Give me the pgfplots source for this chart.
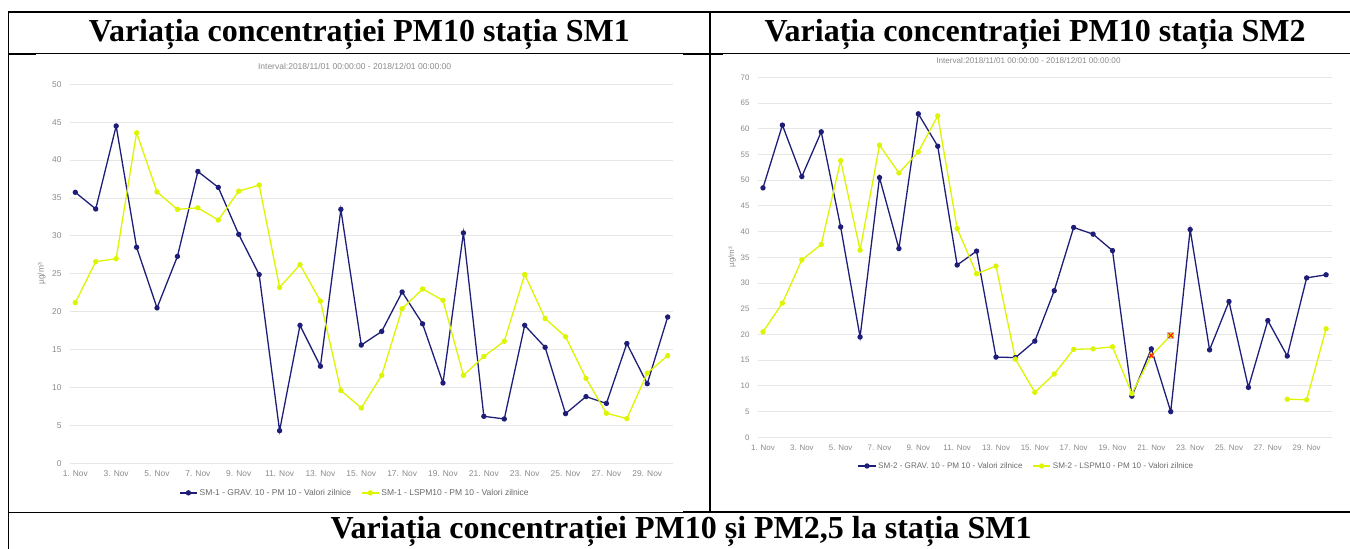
\documentclass[border=0pt]{standalone}
\usepackage{fontspec}
\setmainfont{Liberation Sans}
\newfontfamily\titlefont{Liberation Serif}
\usepackage{pgfplots}
\pgfplotsset{compat=1.18}
\definecolor{navy}{HTML}{1E1E78}
\definecolor{lime}{HTML}{DDF500}
\definecolor{gridc}{HTML}{E6E6E6}
\definecolor{labc}{HTML}{8A8A8A}
\definecolor{legc}{HTML}{6A6A6A}
\pgfplotsset{
  hc/.style={
    scale only axis,
    axis line style={draw=none},
    tick style={draw=none},
    major tick length=0pt,
    ymajorgrids,
    grid style={gridc, line width=0.9pt},
    xtick={1,3,...,29},
    xticklabels={1. Nov,3. Nov,5. Nov,7. Nov,9. Nov,11. Nov,13. Nov,15. Nov,17. Nov,19. Nov,21. Nov,23. Nov,25. Nov,27. Nov,29. Nov},
    /pgf/number format/assume math mode=true,
    ticklabel style={text=labc},
    yticklabel style={anchor=east, xshift=-5pt},
    xticklabel style={anchor=north, yshift=-4pt},
    ylabel={µg/m³},
    ylabel style={text=labc, anchor=center},
    title style={text=labc, anchor=center},
    legend columns=2,
    clip=false,
  },
  s1/.style={navy, line width=1.3pt, mark=*, mark size=2pt, mark options={solid, fill=navy}},
  s2/.style={lime, line width=1.3pt, mark=*, mark size=2pt, mark options={solid, fill=lime}},
}
\begin{document}
\begin{tikzpicture}
\useasboundingbox (0pt,0pt) rectangle (1350pt,549pt);
% ---------- chart 1 ----------
\begin{axis}[hc,
  at={(70pt,85.7pt)}, anchor=south west,
  width=603pt, height=379pt,
  xmin=0.74, xmax=30.26, ymin=0, ymax=50, ytick={0,5,...,50},
  ticklabel style={font=\fontsize{8.4}{10}\selectfont},
  ylabel style={font=\fontsize{8.4}{10}\selectfont, at={(axis description cs:-0.047,0.5)}},
  title={Interval:2018/11/01 00:00:00 - 2018/12/01 00:00:00},
  title style={font=\fontsize{8.5}{10}\selectfont, at={(axis description cs:0.472,1.0306)}},
  legend style={draw=none, fill=none, at={(0.4726,-0.078)}, anchor=center,
    font=\fontsize{8.5}{10}\selectfont, text=legc,
    /tikz/every even column/.append style={column sep=8pt}},
]
\addplot[s1] coordinates {(1,35.75)(2,33.55)(3,44.5)(4,28.5)(5,20.5)(6,27.3)(7,38.5)(8,36.4)(9,30.2)(10,24.9)(11,4.3)(12,18.2)(13,12.8)(14,33.5)(15,15.6)(16,17.4)(17,22.6)(18,18.4)(19,10.6)(20,30.4)(21,6.2)(22,5.85)(23,18.2)(24,15.3)(25,6.55)(26,8.8)(27,7.9)(28,15.8)(29,10.5)(30,19.3)};
\addlegendentry{SM-1 - GRAV. 10 - PM 10 - Valori zilnice}
\addplot[s2] coordinates {(1,21.2)(2,26.6)(3,27.0)(4,43.6)(5,35.8)(6,33.5)(7,33.7)(8,32.1)(9,35.9)(10,36.7)(11,23.2)(12,26.2)(13,21.4)(14,9.6)(15,7.3)(16,11.6)(17,20.4)(18,23.0)(19,21.5)(20,11.6)(21,14.1)(22,16.1)(23,24.9)(24,19.1)(25,16.7)(26,11.2)(27,6.6)(28,5.9)(29,11.9)(30,14.2)};
\addlegendentry{SM-1 - LSPM10 - PM 10 - Valori zilnice}
\end{axis}
% ---------- chart 2 ----------
\begin{axis}[hc,
  at={(758pt,111.7pt)}, anchor=south west,
  width=573.7pt, height=360pt,
  xmin=0.743, xmax=30.29, ymin=0, ymax=70, ytick={0,5,...,70},
  ticklabel style={font=\fontsize{7.9}{9}\selectfont},
  ylabel style={font=\fontsize{7.9}{9}\selectfont, at={(axis description cs:-0.0453,0.5)}},
  title={Interval:2018/11/01 00:00:00 - 2018/12/01 00:00:00},
  title style={font=\fontsize{8.1}{10}\selectfont, at={(axis description cs:0.4715,1.031)}},
  legend style={draw=none, fill=none, at={(0.468,-0.0797)}, anchor=center,
    font=\fontsize{8.1}{10}\selectfont, text=legc,
    /tikz/every even column/.append style={column sep=8pt}},
]
\addplot[s1] coordinates {(1,48.5)(2,60.7)(3,50.7)(4,59.4)(5,40.9)(6,19.5)(7,50.5)(8,36.7)(9,62.9)(10,56.6)(11,33.5)(12,36.2)(13,15.6)(14,15.5)(15,18.7)(16,28.5)(17,40.8)(18,39.5)(19,36.3)(20,8.0)(21,17.2)(22,5.0)(23,40.4)(24,17.0)(25,26.4)(26,9.7)(27,22.7)(28,15.8)(29,31.0)(30,31.6)};
\addlegendentry{SM-2 - GRAV. 10 - PM 10 - Valori zilnice}
\addplot[s2] coordinates {(1,20.5)(2,26.1)(3,34.5)(4,37.5)(5,53.8)(6,36.4)(7,56.8)(8,51.4)(9,55.5)(10,62.5)(11,40.6)(12,31.8)(13,33.3)(14,15.2)(15,8.75)(16,12.3)(17,17.1)(18,17.2)(19,17.6)(20,8.5)(21,15.9)(22,19.8)};
\addlegendentry{SM-2 - LSPM10 - PM 10 - Valori zilnice}
\addplot[s2, forget plot] coordinates {(28,7.4)(29,7.3)(30,21.1)};
\addplot[only marks, mark=square, mark size=3pt, mark options={draw=gray!50, line width=0.6pt}, forget plot] coordinates {(22,19.8)};
\addplot[only marks, mark=x, mark size=3.2pt, mark options={draw=red!75!orange, line width=1.3pt}, forget plot] coordinates {(21,15.9)(22,19.8)};
\end{axis}
% ---------- table lines ----------
\draw[line width=1.8pt] (8.5pt,537pt) -- (1350pt,537pt);
\draw[line width=1.8pt] (8.5pt,537.9pt) -- (8.5pt,0pt);
\draw[line width=1.8pt] (710pt,537pt) -- (710pt,36.5pt);
\draw[line width=1pt] (8.5pt,495pt) -- (1350pt,495pt);
\draw[line width=1.8pt] (8.5pt,495pt) -- (36pt,495pt);
\draw[line width=1.8pt] (683pt,495pt) -- (723pt,495pt);
\draw[line width=1.3pt] (8.5pt,36.5pt) -- (683pt,36.5pt);
\draw[line width=1.8pt] (8.5pt,36.5pt) -- (36pt,36.5pt);
\draw[line width=2.2pt] (683pt,36.8pt) -- (1350pt,36.8pt);
% ---------- table titles ----------
\node[anchor=base, inner sep=0pt, font=\titlefont\bfseries\fontsize{32}{38}\selectfont] at (359.3pt,507.3pt) {Variația concentrației PM10 stația SM1};
\node[anchor=base, inner sep=0pt, font=\titlefont\bfseries\fontsize{32}{38}\selectfont] at (1035pt,507.3pt) {Variația concentrației PM10 stația SM2};
\node[anchor=base, inner sep=0pt, font=\titlefont\bfseries\fontsize{32}{38}\selectfont] at (681pt,10pt) {Variația concentrației PM10 și PM2,5 la stația SM1};
\end{tikzpicture}
\end{document}
